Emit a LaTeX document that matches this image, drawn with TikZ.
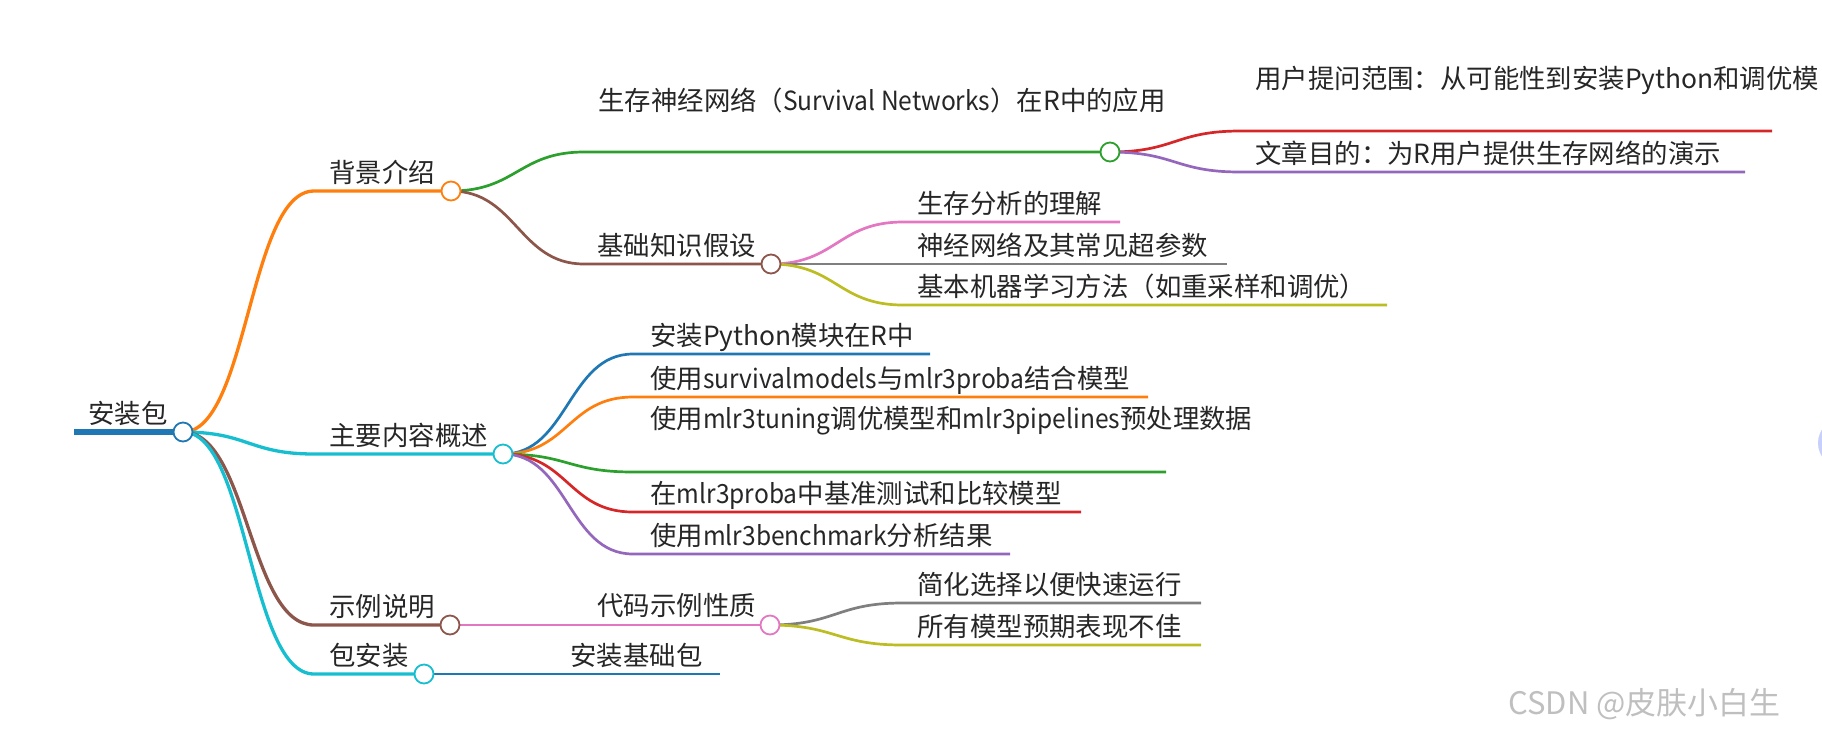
\documentclass[tikz,border=0pt]{standalone}
\usepackage{fontspec}
\setmainfont{Noto Sans CJK SC}
\newfontfamily\narrowlatin[FakeStretch=0.93]{Noto Sans CJK SC}
\newcommand{\lat}[1]{{\narrowlatin #1}}
\usetikzlibrary{backgrounds}

\definecolor{mmblue}{HTML}{1F77B4}
\definecolor{mmorange}{HTML}{FF7F0E}
\definecolor{mmgreen}{HTML}{2CA02C}
\definecolor{mmred}{HTML}{D62728}
\definecolor{mmpurple}{HTML}{9467BD}
\definecolor{mmbrown}{HTML}{8C564B}
\definecolor{mmpink}{HTML}{E377C2}
\definecolor{mmgray}{HTML}{7F7F7F}
\definecolor{mmolive}{HTML}{BCBD22}
\definecolor{mmcyan}{HTML}{17BECF}
\definecolor{scrollblue}{HTML}{C6D0FA}

\begin{document}
\begin{tikzpicture}[
    x=0.5pt, y=-0.5pt,
    font=\fontsize{13.2}{16}\selectfont,
    topic/.style={anchor=base west, inner sep=0pt, text=black!85},
    knob/.style={circle, draw=#1, fill=white, line width=0.9pt, minimum size=9.5pt, inner sep=0pt},
    linkpath/.style={to path={.. controls +(65,0) and +(-65,0) .. (\tikztotarget)}},
    trunk/.style={draw=#1, line width=3pt},
    branch/.style={linkpath, draw=#1, line width=1.65pt},
    twig/.style={linkpath, draw=#1, line width=1.35pt}
]
\useasboundingbox (0,0) rectangle (1822,736);

% root
\coordinate (root-s) at (74,432);
\node [knob=mmblue] (root-dot) at (183,432) {};
\node [topic] (root) at (88,423.5) {安装包};

% first level
\coordinate (bg-s) at (314,191);
\node [knob=mmorange] (bg-dot) at (451,191) {};
\node [topic] (bg) at (329,182.5) {背景介绍};
\coordinate (main-s) at (314,454);
\node [knob=mmcyan] (main-dot) at (503,454) {};
\node [topic] (main) at (329,445.5) {主要内容概述};
\coordinate (ex-s) at (314,625);
\node [knob=mmbrown] (ex-dot) at (450,625) {};
\node [topic] (ex) at (329,616.5) {示例说明};
\coordinate (pkg-s) at (314,674);
\node [knob=mmcyan] (pkg-dot) at (424,674) {};
\node [topic] (pkg) at (329,665.5) {包安装};

% background
\coordinate (snn-s) at (584,152);
\node [knob=mmgreen] (snn-dot) at (1110,152) {};
\node [topic] (snn) at (598,110) {生存神经网络（\lat{Survival Networks}）在R中的应用};
\coordinate (scope-s) at (1240,131);
\coordinate (scope-e) at (1772,131);
\node [topic] (scope) at (1255,88) {用户提问范围：从可能性到安装Python和调优模};
\coordinate (aim-s) at (1240,172);
\coordinate (aim-e) at (1745,172);
\node [topic] (aim) at (1255,163.5) {文章目的：为R用户提供生存网络的演示};
\coordinate (basic-s) at (584,264);
\node [knob=mmbrown] (basic-dot) at (771,264) {};
\node [topic] (basic) at (597,255.5) {基础知识假设};
\coordinate (und-s) at (903,222);
\coordinate (und-e) at (1120,222);
\node [topic] (und) at (917,213.5) {生存分析的理解};
\coordinate (nn-s) at (903,264);
\coordinate (nn-e) at (1227,264);
\node [topic] (nn) at (917,255.5) {神经网络及其常见超参数};
\coordinate (ml-s) at (903,305);
\coordinate (ml-e) at (1387,305);
\node [topic] (ml) at (917,296.5) {基本机器学习方法（如重采样和调优）};

% main content
\coordinate (py-s) at (633,354);
\coordinate (py-e) at (930,354);
\node [topic] (py) at (650,345.5) {安装Python模块在R中};
\coordinate (sm-s) at (633,397);
\coordinate (sm-e) at (1148,397);
\node [topic] (sm) at (650,388.5) {使用\lat{survivalmodels}与\lat{mlr3proba}结合模型};
\coordinate (tun-s) at (633,472);
\coordinate (tun-e) at (1166,472);
\node [topic] (tun) at (650,428) {使用\lat{mlr3tuning}调优模型和\lat{mlr3pipelines}预处理数据};
\coordinate (bm-s) at (633,512);
\coordinate (bm-e) at (1081,512);
\node [topic] (bm) at (650,503) {在\lat{mlr3proba}中基准测试和比较模型};
\coordinate (res-s) at (633,554);
\coordinate (res-e) at (1010,554);
\node [topic] (res) at (650,545) {使用\lat{mlr3benchmark}分析结果};

% examples
\coordinate (code-s) at (581,625);
\node [knob=mmpink] (code-dot) at (770,625) {};
\node [topic] (code) at (597,615.5) {代码示例性质};
\coordinate (simp-s) at (902,603);
\coordinate (simp-e) at (1201,603);
\node [topic] (simp) at (917,594.5) {简化选择以便快速运行};
\coordinate (poor-s) at (902,645);
\coordinate (poor-e) at (1201,645);
\node [topic] (poor) at (917,636.5) {所有模型预期表现不佳};

% packages
\coordinate (base-s) at (555,674);
\coordinate (base-e) at (720,674);
\node [topic] (base) at (570,665.5) {安装基础包};

% page decorations
\fill [scrollblue] (1843,443) circle [radius=25];
\node [anchor=base west, inner sep=0pt, text=black!25, font=\fontsize{15.5}{18}\selectfont] (wm) at (1508,714) {CSDN @皮肤小白生};

\begin{scope}[on background layer]
\draw [trunk=mmblue] (root-s) -- (root-dot.center);
\draw [branch=mmorange] (root-dot.center) to (bg-s) -- (bg-dot.center);
\draw [branch=mmcyan] (root-dot.center) to (main-s) -- (main-dot.center);
\draw [branch=mmbrown] (root-dot.center) to (ex-s) -- (ex-dot.center);
\draw [branch=mmcyan] (root-dot.center) to (pkg-s) -- (pkg-dot.center);
\draw [twig=mmgreen] (bg-dot.center) to (snn-s) -- (snn-dot.center);
\draw [twig=mmbrown] (bg-dot.center) to (basic-s) -- (basic-dot.center);
\draw [twig=mmred] (snn-dot.center) to (scope-s) -- (scope-e);
\draw [twig=mmpurple] (snn-dot.center) to (aim-s) -- (aim-e);
\draw [twig=mmpink] (basic-dot.center) to (und-s) -- (und-e);
\draw [twig=mmgray] (basic-dot.center) to (nn-s) -- (nn-e);
\draw [twig=mmolive] (basic-dot.center) to (ml-s) -- (ml-e);
\draw [twig=mmblue] (main-dot.center) to (py-s) -- (py-e);
\draw [twig=mmorange] (main-dot.center) to (sm-s) -- (sm-e);
\draw [twig=mmgreen] (main-dot.center) to (tun-s) -- (tun-e);
\draw [twig=mmred] (main-dot.center) to (bm-s) -- (bm-e);
\draw [twig=mmpurple] (main-dot.center) to (res-s) -- (res-e);
\draw [twig=mmpink] (ex-dot.center) to (code-s) -- (code-dot.center);
\draw [twig=mmgray] (code-dot.center) to (simp-s) -- (simp-e);
\draw [twig=mmolive] (code-dot.center) to (poor-s) -- (poor-e);
\draw [twig=mmblue] (pkg-dot.center) to (base-s) -- (base-e);
\end{scope}
\end{tikzpicture}
\end{document}
